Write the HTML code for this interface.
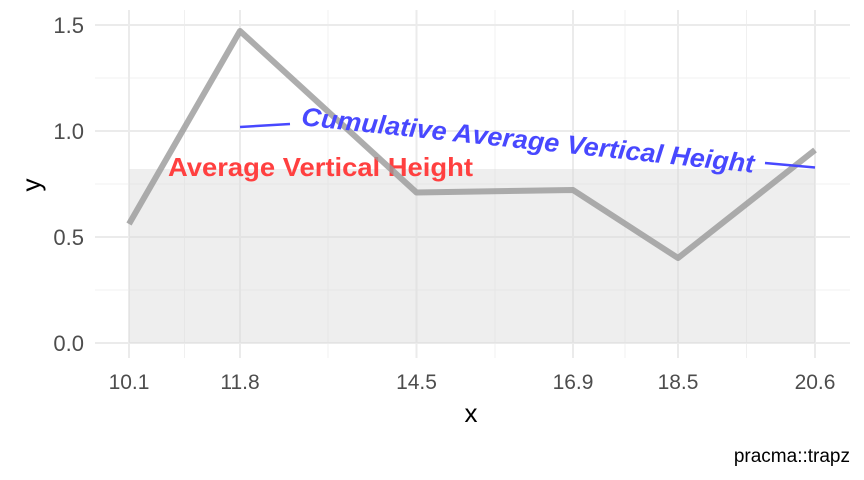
<!DOCTYPE html>
<html><head><meta charset="utf-8"><style>
html,body{margin:0;padding:0;background:#fff;}
svg{display:block;font-family:"Liberation Sans",sans-serif;}
</style></head><body>
<svg width="864" height="480" viewBox="0 0 864 480" xmlns="http://www.w3.org/2000/svg">
<g stroke="#f0f0f0" stroke-width="1">
<line x1="95" x2="850" y1="290" y2="290"/><line x1="95" x2="850" y1="184" y2="184"/><line x1="95" x2="850" y1="78" y2="78"/>
<line x1="184.5" x2="184.5" y1="10" y2="358"/><line x1="328" x2="328" y1="10" y2="358"/><line x1="495" x2="495" y1="10" y2="358"/><line x1="625" x2="625" y1="10" y2="358"/><line x1="746.5" x2="746.5" y1="10" y2="358"/>
</g>
<g stroke="#ebebeb" stroke-width="2">
<line x1="95" x2="850" y1="343" y2="343"/><line x1="95" x2="850" y1="237" y2="237"/><line x1="95" x2="850" y1="131" y2="131"/><line x1="95" x2="850" y1="25" y2="25"/>
<line x1="129" x2="129" y1="10" y2="358"/><line x1="240" x2="240" y1="10" y2="358"/><line x1="416.5" x2="416.5" y1="10" y2="358"/><line x1="573" x2="573" y1="10" y2="358"/><line x1="678" x2="678" y1="10" y2="358"/><line x1="815" x2="815" y1="10" y2="358"/>
</g>
<rect x="129" y="169" width="686" height="174" fill="#d9d9d9" fill-opacity="0.45"/>
<text x="168" y="176" font-size="26" font-weight="bold" fill="#ff4040" textLength="305" lengthAdjust="spacingAndGlyphs">Average Vertical Height</text>
<polyline points="129,224 240,31 416.5,192.5 573,190 678,258 815,150" fill="none" stroke="#999" stroke-opacity="0.8" stroke-width="6" stroke-linejoin="round"/>
<g stroke="#4848ff" stroke-width="2.5">
<line x1="240" y1="127" x2="290" y2="124"/><line x1="765" y1="163" x2="815" y2="167.5"/>
</g>
<text transform="translate(528,140) rotate(6)" text-anchor="middle" dominant-baseline="central" font-size="26" font-weight="bold" font-style="italic" fill="#4848ff" textLength="455" lengthAdjust="spacingAndGlyphs">Cumulative Average Vertical Height</text>
<g font-size="22" fill="#4d4d4d" text-anchor="end">
<text x="84" y="351">0.0</text><text x="84" y="245">0.5</text><text x="84" y="139">1.0</text><text x="84" y="33">1.5</text>
</g>
<g font-size="21" fill="#4d4d4d" text-anchor="middle">
<text x="129" y="389">10.1</text><text x="240" y="389">11.8</text><text x="416.5" y="389">14.5</text><text x="573" y="389">16.9</text><text x="678" y="389">18.5</text><text x="815" y="389">20.6</text>
</g>
<text x="471" y="422" font-size="26" text-anchor="middle">x</text>
<text transform="translate(40,185) rotate(-90)" font-size="26" text-anchor="middle">y</text>
<text x="850" y="462" font-size="19" text-anchor="end">pracma::trapz</text>
</svg>
</body></html>
